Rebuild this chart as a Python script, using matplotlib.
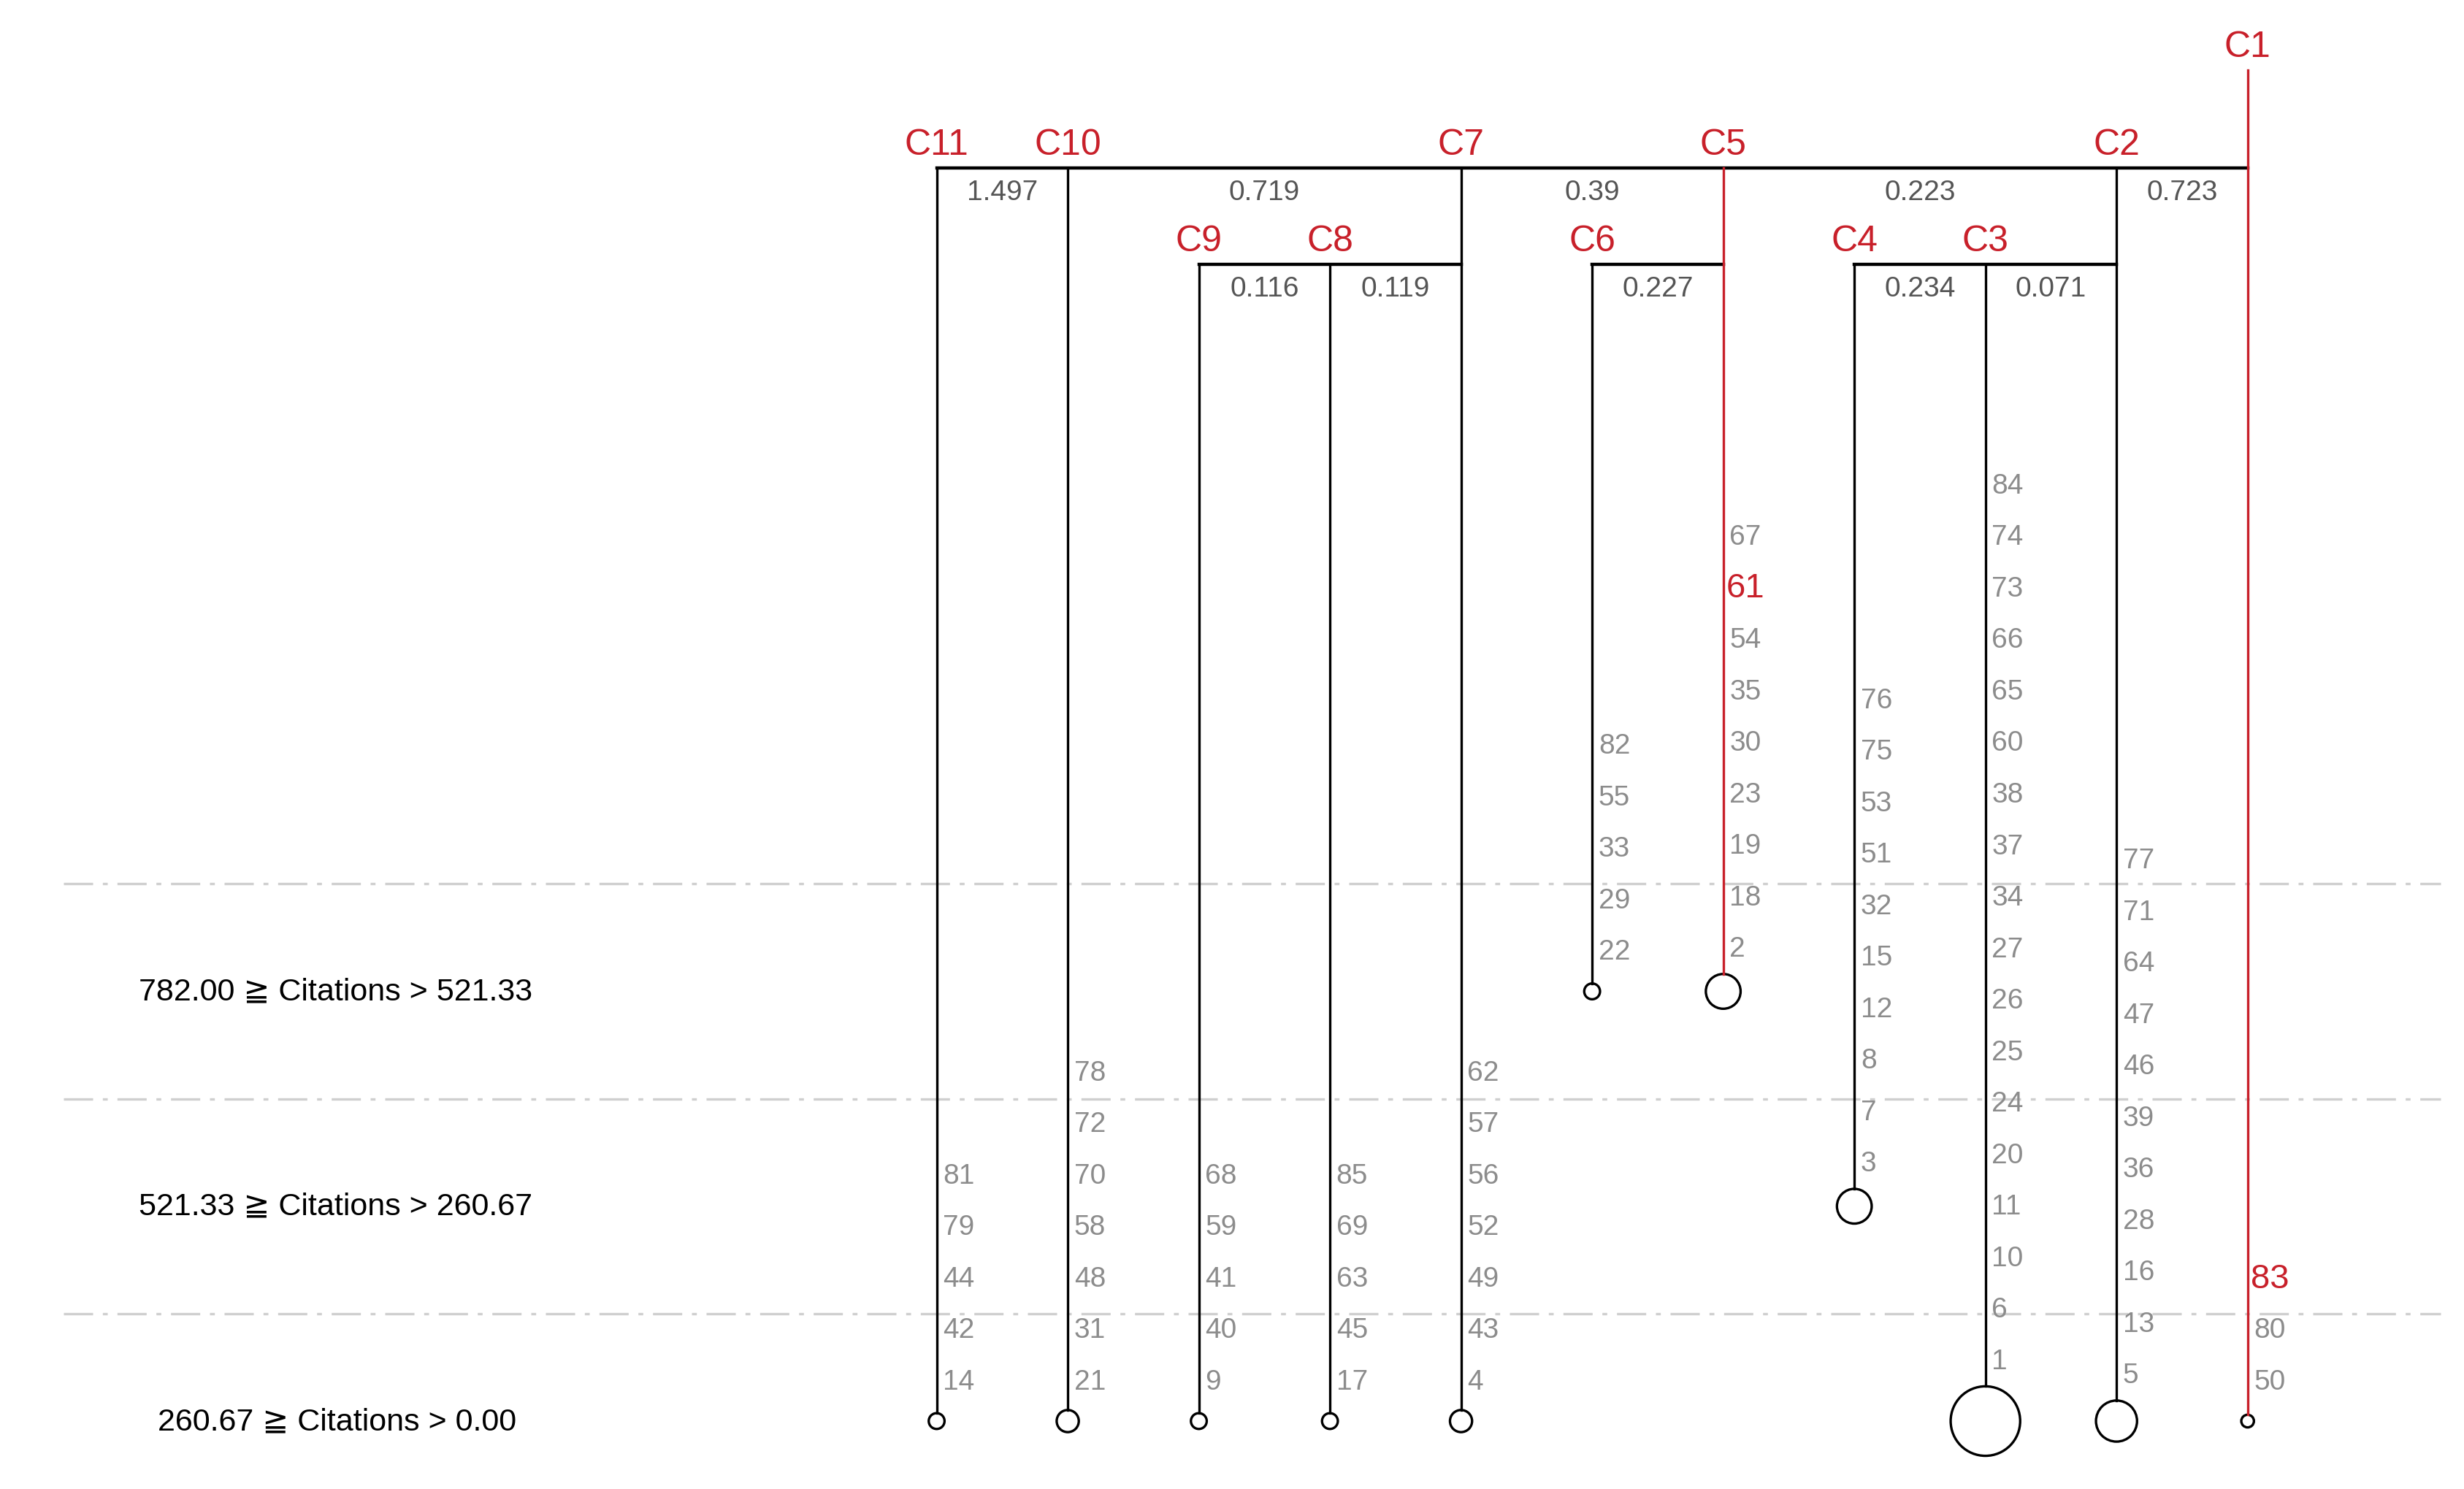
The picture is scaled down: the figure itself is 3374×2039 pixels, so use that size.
import matplotlib
matplotlib.use("Agg")
import matplotlib.pyplot as plt
from matplotlib.patches import Ellipse

plt.rcParams['font.family'] = ['Liberation Sans', 'DejaVu Sans', 'Noto Sans CJK SC']

# clusters left to right
clusters = ["C11", "C10", "C9", "C8", "C7", "C6", "C5", "C4", "C3", "C2", "C1"]
members = {
    "C11": ["81", "79", "44", "42", "14"],
    "C10": ["78", "72", "70", "58", "48", "31", "21"],
    "C9": ["68", "59", "41", "40", "9"],
    "C8": ["85", "69", "63", "45", "17"],
    "C7": ["62", "57", "56", "52", "49", "43", "4"],
    "C6": ["82", "55", "33", "29", "22"],
    "C5": ["67", "61", "54", "35", "30", "23", "19", "18", "2"],
    "C4": ["76", "75", "53", "51", "32", "15", "12", "8", "7", "3"],
    "C3": ["84", "74", "73", "66", "65", "60", "38", "37", "34", "27", "26", "25",
           "24", "20", "11", "10", "6", "1"],
    "C2": ["77", "71", "64", "47", "46", "39", "36", "28", "16", "13", "5"],
    "C1": ["83", "80", "50"],
}
highlight = {"61", "83"}
# citation band each cluster ends in (0 = lowest) and circle size
band = {"C11": 0, "C10": 0, "C9": 0, "C8": 0, "C7": 0, "C6": 2, "C5": 2,
        "C4": 1, "C3": 0, "C2": 0, "C1": 0}
size = {"C11": 5, "C10": 7, "C9": 5, "C8": 5, "C7": 7, "C6": 5, "C5": 11,
        "C4": 11, "C3": 22, "C2": 13, "C1": 4}
red_clusters = {"C5", "C1"}
top_dist = ["1.497", "0.719", "0.39", "0.223", "0.723"]
top_nodes = ["C11", "C10", "C7", "C5", "C2", "C1"]
sub_groups = [["C9", "C8", "C7"], ["C6", "C5"], ["C4", "C3", "C2"]]
sub_dist = [["0.116", "0.119"], ["0.227"], ["0.234", "0.071"]]
band_labels = ["260.67 \u2267 Citations > 0.00",
               "521.33 \u2267 Citations > 260.67",
               "782.00 \u2267 Citations > 521.33"]

W, H = 1560, 943
fig = plt.figure(figsize=(16.87, 10.2), dpi=200)
ax = fig.add_axes([0, 0, 1, 1])
ax.set_xlim(0, W)
ax.set_ylim(H, 0)
ax.axis("off")

xs = {c: 593 + i * 83.0 for i, c in enumerate(clusters)}
end_y = [900, 764, 628]
top_y, sub_y = 107, 168
gray = "#8c8c8c"
red = "#c8202a"
cfs = 18
nfs = 14

# band separators and labels
for y in [560, 696, 832]:
    ax.plot([40, 1545], [y, y], color="#cfcfcf", lw=1.2, ls=(0, (12, 4, 2, 4)))
for i, t in enumerate(band_labels):
    ax.text(100 if i == 0 else 88, end_y[i], t, fontsize=15.5, va="center", ha="left")

# top bar
ax.plot([xs["C11"], xs["C1"]], [top_y, top_y], color="black", lw=1.6)
for i, d in enumerate(top_dist):
    xm = (xs[top_nodes[i]] + xs[top_nodes[i + 1]]) / 2
    ax.text(xm, top_y + 15, d, color="#555555", fontsize=nfs, ha="center", va="center")
for c in top_nodes[:-1]:
    ax.text(xs[c], top_y - 15, c, color=red, fontsize=cfs, ha="center", va="center")
ax.text(xs["C1"], 30, "C1", color=red, fontsize=cfs, ha="center", va="center")

# sub bars
for g, ds in zip(sub_groups, sub_dist):
    ax.plot([xs[g[0]], xs[g[-1]]], [sub_y, sub_y], color="black", lw=1.6)
    for j, d in enumerate(ds):
        xm = (xs[g[j]] + xs[g[j + 1]]) / 2
        ax.text(xm, sub_y + 15, d, color="#555555", fontsize=nfs, ha="center", va="center")
    for c in g[:-1]:
        ax.text(xs[c], sub_y - 15, c, color=red, fontsize=cfs, ha="center", va="center")

# vertical lines, circles, member labels
for c in clusters:
    x = xs[c]
    yb = end_y[band[c]]
    r = size[c]
    if c == "C1":
        y0 = 45
    elif c in top_nodes:
        y0 = top_y
    else:
        y0 = sub_y
    col = red if c in red_clusters else "black"
    ax.plot([x, x], [y0, yb - r], color=col, lw=1.2)
    ax.add_patch(Ellipse((x, yb), 2 * r, 2 * r, fill=False, ec="black", lw=1.2))
    labs = members[c]
    n = len(labs)
    off = max(25, r + 16)
    for i, t in enumerate(labs):
        y = yb - off - (n - 1 - i) * 32.6
        if t in highlight:
            ax.text(x + 2, y, t, color=red, fontsize=17, ha="left", va="center")
        else:
            ax.text(x + 4, y, t, color=gray, fontsize=nfs, ha="left", va="center")

fig.savefig("out.png", dpi=200, facecolor="white")
